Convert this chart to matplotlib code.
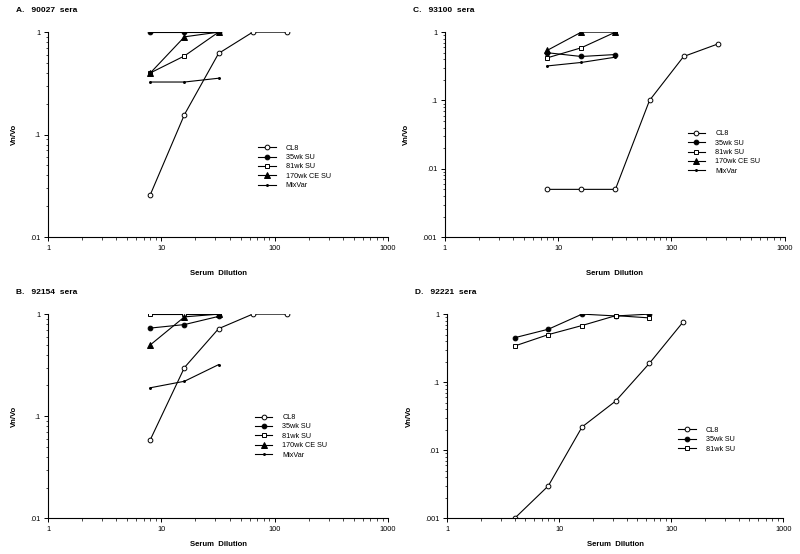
import numpy as np
import matplotlib.pyplot as plt
from matplotlib.ticker import FixedLocator, FuncFormatter, LogLocator, NullFormatter

plt.rcParams["font.family"] = ["Liberation Sans", "DejaVu Sans"]

# dilutions
x_a = [8, 16, 32, 64, 128]
x_c = [8, 16, 32, 64, 128, 256]
x_d = [4, 8, 16, 32, 64, 128]
x_sera = [8, 16, 32]
x_d_sera = [4, 8, 16, 32, 64]

# A. 90027
a_cl8 = [0.026, 0.157, 0.62, 1.0, 1.0]
a_35 = [1.0, 1.0, 1.0]
a_81 = [0.40, 0.586, 1.0]
a_170 = [0.40, 0.90, 1.0]
a_mix = [0.326, 0.326, 0.355]

# B. 92154
b_cl8 = [0.059, 0.30, 0.72, 1.0, 1.0]
b_35 = [0.73, 0.79, 0.95]
b_81 = [1.0, 1.0, 1.0]
b_170 = [0.50, 0.94, 1.0]
b_mix = [0.19, 0.22, 0.32]

# C. 93100
c_cl8 = [0.005, 0.005, 0.005, 0.10, 0.44, 0.67]
c_35 = [0.50, 0.44, 0.47]
c_81 = [0.42, 0.59, 1.0]
c_170 = [0.54, 1.0, 1.0]
c_mix = [0.32, 0.36, 0.43]

# D. 92221
d_cl8 = [0.001, 0.003, 0.022, 0.053, 0.19, 0.77]
d_35 = [0.45, 0.60, 1.0, 0.94, 1.0]
d_81 = [0.34, 0.50, 0.68, 0.95, 0.88]

styles = {
    "CL8": dict(marker="o", mfc="white", ms=3.4),
    "35wk SU": dict(marker="o", mfc="black", ms=3.4),
    "81wk SU": dict(marker="s", mfc="white", ms=3.4),
    "170wk CE SU": dict(marker="^", mfc="black", ms=4.4),
    "MixVar": dict(marker="o", mfc="black", ms=1.4),
}


def ylab(v, pos):
    s = f"{v:g}"
    return s[1:] if s.startswith("0") else s


def panel(ax, title, ymin, series, legend_pos, xpad):
    for label, xs, ys in series:
        ax.plot(xs, ys, color="black", lw=0.8, mec="black", mew=0.7,
                label=label, **styles[label])
    ax.set_xscale("log")
    ax.set_yscale("log")
    ax.set_xlim(1, 1000)
    ax.set_ylim(ymin, 1)
    ax.spines["top"].set_visible(False)
    ax.spines["right"].set_visible(False)
    ax.spines["left"].set_linewidth(0.8)
    ax.spines["bottom"].set_linewidth(0.8)
    ax.xaxis.set_major_locator(FixedLocator([1, 10, 100, 1000]))
    ax.xaxis.set_major_formatter(FuncFormatter(lambda v, p: f"{v:g}"))
    ax.xaxis.set_minor_locator(LogLocator(base=10, subs=np.arange(2, 10)))
    ax.xaxis.set_minor_formatter(NullFormatter())
    ax.yaxis.set_major_formatter(FuncFormatter(ylab))
    ax.yaxis.set_minor_locator(LogLocator(base=10, subs=np.arange(2, 10)))
    ax.yaxis.set_minor_formatter(NullFormatter())
    ax.tick_params(which="major", length=3, width=0.7, labelsize=5.3, pad=2.5)
    ax.tick_params(which="minor", length=1.8, width=0.5)
    ax.set_xlabel("Serum  Dilution", fontsize=5.6, fontweight="bold", labelpad=xpad)
    ax.set_ylabel("Vn/Vo", fontsize=5.6, fontweight="bold", labelpad=9)
    ax.legend(loc="upper left", bbox_to_anchor=legend_pos, frameon=False,
              fontsize=5.2, handlelength=2.4, labelspacing=0.32, handletextpad=1.4,
              borderaxespad=0)
    ax.text(-0.095, 1.105, title, transform=ax.transAxes, fontsize=6,
            fontweight="bold", ha="left", va="center")


fig = plt.figure(figsize=(8, 5.54), dpi=100)
ax_a = fig.add_axes([0.06, 0.572, 0.425, 0.37])
ax_c = fig.add_axes([0.556, 0.572, 0.425, 0.37])
ax_b = fig.add_axes([0.06, 0.0644, 0.425, 0.3686])
ax_d = fig.add_axes([0.559, 0.0644, 0.42, 0.3686])

panel(ax_a, "A.   90027  sera", 0.01, [
    ("CL8", x_a, a_cl8), ("35wk SU", x_sera, a_35), ("81wk SU", x_sera, a_81),
    ("170wk CE SU", x_sera, a_170), ("MixVar", x_sera, a_mix)], (0.61, 0.465), 13)
panel(ax_c, "C.   93100  sera", 0.001, [
    ("CL8", x_c, c_cl8), ("35wk SU", x_sera, c_35), ("81wk SU", x_sera, c_81),
    ("170wk CE SU", x_sera, c_170), ("MixVar", x_sera, c_mix)], (0.706, 0.535), 13)
panel(ax_b, "B.   92154  sera", 0.01, [
    ("CL8", x_a, b_cl8), ("35wk SU", x_sera, b_35), ("81wk SU", x_sera, b_81),
    ("170wk CE SU", x_sera, b_170), ("MixVar", x_sera, b_mix)], (0.60, 0.525), 6)
panel(ax_d, "D.   92221  sera", 0.001, [
    ("CL8", x_d, d_cl8), ("35wk SU", x_d_sera, d_35), ("81wk SU", x_d_sera, d_81)],
    (0.679, 0.462), 6)

fig.savefig("out.png", dpi=100)
